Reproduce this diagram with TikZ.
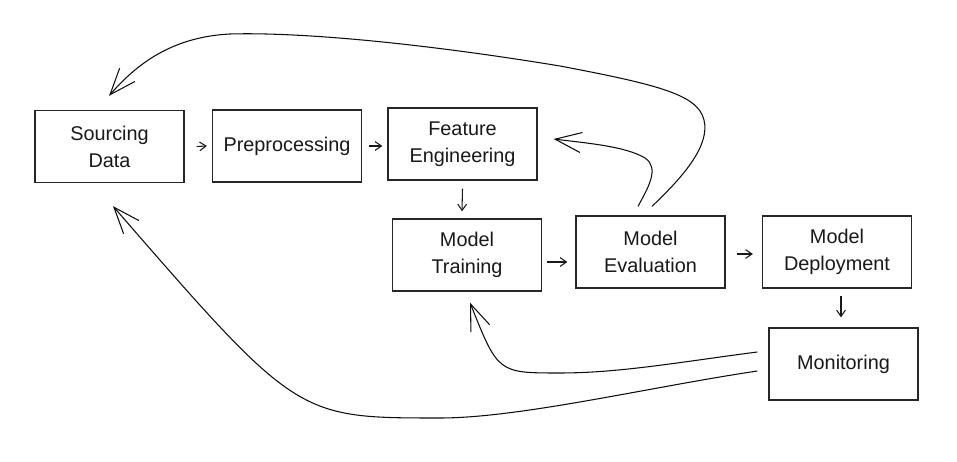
\documentclass[tikz,border=0pt]{standalone}
\usepackage{fontspec}
\setmainfont{Liberation Sans}
\usetikzlibrary{arrows.meta,calc}
\begin{document}
\begin{tikzpicture}[x=0.02cm,y=-0.02cm,
  box/.style={draw=black!85,line width=0.75pt,minimum width=2.98cm,minimum height=1.44cm,inner sep=0pt,align=center,font=\fontsize{11.3}{15.3}\selectfont,text=black!90},
  small/.style={draw=black!90,line width=0.6pt,-{Straight Barb[length=3.6pt,width=5pt]}},
  big/.style={draw=black!95,line width=0.6pt,-{Straight Barb[length=15pt,width=11.5pt]}}]
\useasboundingbox (0,0) rectangle (957,462);
\fill[white] (0,0) rectangle (957,462);
\node[box] (src) at (109.5,146.5) {Sourcing\\Data};
\node[box] (pre) at (287,146) {Preprocessing};
\node[box] (fe)  at (462.5,144) {Feature\\Engineering};
\node[box] (tr)  at (467,255) {Model\\Training};
\node[box] (ev)  at (650.5,252) {Model\\Evaluation};
\node[box] (dep) at (837,252) {Model\\Deployment};
\node[box] (mon) at (843.5,364) {Monitoring};
% short arrows
\draw[small] ($(src.east)+(12,0)$) -- ($(pre.west)+(-5,0)$);
\draw[small] ($(pre.east)+(7,0)$) -- ($(fe.west)+(-5,2)$);
\draw[small] ($(fe.south)+(0,8)$) -- ($(tr.north)+(-5,-7)$);
\draw[small] ($(tr.east)+(5,7)$) -- ($(ev.west)+(-8,10)$);
\draw[small] ($(ev.east)+(11,2)$) -- ($(dep.west)+(-9,2)$);
\draw[small] ($(dep.south)+(4,7)$) -- ($(mon.north)+(-2.5,-10)$);
% evaluation -> feature engineering
\draw[big] ($(ev.north)+(-12.5,-9)$) .. controls (648,188) and (660,168) .. (645,158)
  .. controls (625,146) and (585,143) .. ($(fe.east)+(16,-5)$);
% evaluation -> sourcing data (top)
\draw[big] ($(ev.north)+(1.5,-9)$) .. controls (685,175) and (710,145) .. (704,120)
  .. controls (698,95) and (660,85) .. (560,66)
  .. controls (420,43) and (300,32) .. (230,34)
  .. controls (170,37) and (135,66) .. ($(src.north)+(-0.5,-14)$);
% monitoring -> training
\draw[big] ($(mon.west)+(-11,-12)$) .. controls (680,362) and (620,373) .. (560,373)
  .. controls (498,373) .. ($(tr.south)+(3,11)$);
% monitoring -> sourcing data (bottom)
\draw[big] ($(mon.west)+(-11,7)$) .. controls (650,387) and (520,418) .. (440,418)
  .. controls (297,418) .. ($(src.south)+(3.5,23)$);
\end{tikzpicture}
\end{document}
